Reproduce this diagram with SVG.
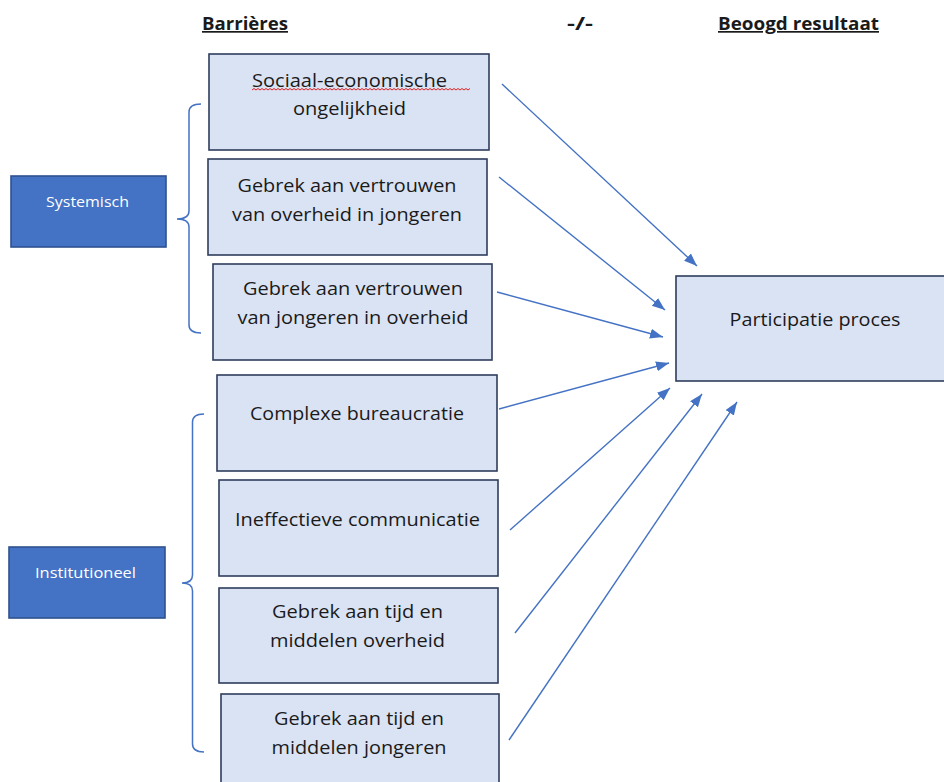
<svg xmlns="http://www.w3.org/2000/svg" width="944" height="782" viewBox="0 0 944 782">
<style>
.box{fill:#DAE3F3;stroke:#2F3D5C;stroke-width:1.6}
.cat{fill:#4472C4;stroke:#2F528F;stroke-width:1.6}
.t{font-family:"Open Sans","Liberation Sans",sans-serif;font-size:18.5px;fill:#1a1a1a;text-anchor:middle}
.ct{font-family:"Open Sans","Liberation Sans",sans-serif;font-size:14px;fill:#ffffff;text-anchor:middle}
.h{font-family:"Open Sans","Liberation Sans",sans-serif;font-size:17px;font-weight:bold;fill:#1a1a1a;text-decoration:underline}
.conn{stroke:#4472C4;stroke-width:1.4;fill:none}
.brace{stroke:#4472C4;stroke-width:1.5;fill:none}
</style>
<defs>
<marker id="ah" markerUnits="userSpaceOnUse" markerWidth="14" markerHeight="12" refX="13" refY="5" orient="auto">
<path d="M0,0 L13,5 L0,10 Z" fill="#4472C4"/>
</marker>
</defs>
<rect width="944" height="782" fill="#ffffff"/>
<g id="headers">
<text class="h" x="202" y="30" textLength="86" lengthAdjust="spacingAndGlyphs">Barrières</text>
<text class="h" x="567" y="30" textLength="26" lengthAdjust="spacingAndGlyphs" style="text-decoration:none">-/-</text>
<text class="h" x="718" y="30" textLength="161" lengthAdjust="spacingAndGlyphs">Beoogd resultaat</text>
</g>
<g id="systemisch">
<rect class="cat" x="11" y="176" width="155" height="71"/>
<text class="ct" x="87.5" y="207" textLength="83" lengthAdjust="spacingAndGlyphs">Systemisch</text>
</g>
<g id="institutioneel">
<rect class="cat" x="9" y="547" width="156" height="71"/>
<text class="ct" x="85.5" y="578" textLength="101" lengthAdjust="spacingAndGlyphs">Institutioneel</text>
</g>
<g id="braces">
<path class="brace" d="M201,104 Q189,104 189,112 L189,211 Q189,219 177,219 Q189,219 189,227 L189,325 Q189,333 201,333"/>
<path class="brace" d="M204,414 Q192.5,414 192.5,422 L192.5,575 Q192.5,583 182,583 Q192.5,583 192.5,591 L192.5,744 Q192.5,752 204,752"/>
</g>
<g id="b1">
<rect class="box" x="209" y="54" width="280" height="96"/>
<text class="t" x="349.5" y="87" textLength="195" lengthAdjust="spacingAndGlyphs">Sociaal-economische</text>
<path d="M252,90 l2,-1.5 l2,1.5 l2,-1.5 l2,1.5 l2,-1.5 l2,1.5 l2,-1.5 l2,1.5 l2,-1.5 l2,1.5 l2,-1.5 l2,1.5 l2,-1.5 l2,1.5 l2,-1.5 l2,1.5 l2,-1.5 l2,1.5 l2,-1.5 l2,1.5 l2,-1.5 l2,1.5 l2,-1.5 l2,1.5 l2,-1.5 l2,1.5 l2,-1.5 l2,1.5 l2,-1.5 l2,1.5 l2,-1.5 l2,1.5 l2,-1.5 l2,1.5 l2,-1.5 l2,1.5 l2,-1.5 l2,1.5 l2,-1.5 l2,1.5 l2,-1.5 l2,1.5 l2,-1.5 l2,1.5 l2,-1.5 l2,1.5 l2,-1.5 l2,1.5 l2,-1.5 l2,1.5 l2,-1.5 l2,1.5 l2,-1.5 l2,1.5 l2,-1.5 l2,1.5 l2,-1.5 l2,1.5 l2,-1.5 l2,1.5 l2,-1.5 l2,1.5 l2,-1.5 l2,1.5 l2,-1.5 l2,1.5 l2,-1.5 l2,1.5 l2,-1.5 l2,1.5 l2,-1.5 l2,1.5 l2,-1.5 l2,1.5 l2,-1.5 l2,1.5 l2,-1.5 l2,1.5 l2,-1.5 l2,1.5 l2,-1.5 l2,1.5 l2,-1.5 l2,1.5 l2,-1.5 l2,1.5 l2,-1.5 l2,1.5 l2,-1.5 l2,1.5 l2,-1.5 l2,1.5 l2,-1.5 l2,1.5 l2,-1.5 l2,1.5 l2,-1.5 l2,1.5 l2,-1.5 l2,1.5 l2,-1.5 l2,1.5 l2,-1.5 l2,1.5 l2,-1.5 l2,1.5 l2,-1.5 l2,1.5 l2,-1.5" fill="none" stroke="#E02020" stroke-width="1"/>
<text class="t" x="349.5" y="115" textLength="113" lengthAdjust="spacingAndGlyphs">ongelijkheid</text>
</g>
<g id="b2">
<rect class="box" x="208" y="159" width="279" height="96"/>
<text class="t" x="347" y="192" textLength="219" lengthAdjust="spacingAndGlyphs">Gebrek aan vertrouwen</text>
<text class="t" x="347" y="221" textLength="230" lengthAdjust="spacingAndGlyphs">van overheid in jongeren</text>
</g>
<g id="b3">
<rect class="box" x="213" y="264" width="279" height="96"/>
<text class="t" x="353" y="295" textLength="220" lengthAdjust="spacingAndGlyphs">Gebrek aan vertrouwen</text>
<text class="t" x="353" y="324" textLength="231" lengthAdjust="spacingAndGlyphs">van jongeren in overheid</text>
</g>
<g id="b4">
<rect class="box" x="217" y="375" width="280" height="96"/>
<text class="t" x="357" y="420" textLength="214" lengthAdjust="spacingAndGlyphs">Complexe bureaucratie</text>
</g>
<g id="b5">
<rect class="box" x="219" y="480" width="279" height="96"/>
<text class="t" x="357.5" y="526" textLength="245" lengthAdjust="spacingAndGlyphs">Ineffectieve communicatie</text>
</g>
<g id="b6">
<rect class="box" x="219" y="588" width="279" height="95"/>
<text class="t" x="357.5" y="618" textLength="171" lengthAdjust="spacingAndGlyphs">Gebrek aan tijd en</text>
<text class="t" x="357.5" y="647" textLength="175" lengthAdjust="spacingAndGlyphs">middelen overheid</text>
</g>
<g id="b7">
<rect class="box" x="221" y="694" width="278" height="100"/>
<text class="t" x="359" y="725" textLength="170" lengthAdjust="spacingAndGlyphs">Gebrek aan tijd en</text>
<text class="t" x="359" y="754" textLength="175" lengthAdjust="spacingAndGlyphs">middelen jongeren</text>
</g>
<g id="participatie">
<rect class="box" x="676" y="276" width="272" height="105"/>
<text class="t" x="815" y="326" textLength="171" lengthAdjust="spacingAndGlyphs">Participatie proces</text>
</g>
<g id="connectors">
<line class="conn" x1="502" y1="84" x2="697" y2="266" marker-end="url(#ah)"/>
<line class="conn" x1="499" y1="177" x2="665" y2="310" marker-end="url(#ah)"/>
<line class="conn" x1="497" y1="292" x2="663" y2="337" marker-end="url(#ah)"/>
<line class="conn" x1="499" y1="409" x2="669" y2="363" marker-end="url(#ah)"/>
<line class="conn" x1="510" y1="530" x2="670" y2="388" marker-end="url(#ah)"/>
<line class="conn" x1="515" y1="633" x2="702" y2="394" marker-end="url(#ah)"/>
<line class="conn" x1="509" y1="740" x2="737" y2="402" marker-end="url(#ah)"/>
</g>
</svg>
